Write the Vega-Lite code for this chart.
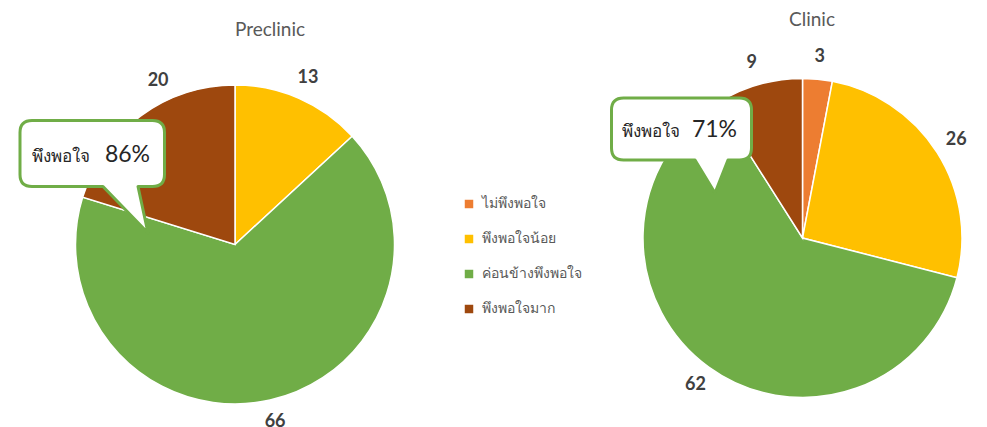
{
  "$schema": "https://vega.github.io/schema/vega-lite/v6.json",
  "width": 987,
  "height": 427,
  "autosize": "none",
  "padding": 0,
  "background": "white",
  "config": {"view": {"stroke": null}, "font": "Lato"},
  "datasets": {
    "slices": [
      {"grp": "Preclinic", "cat": "พึงพอใจน้อย", "k": 2, "v": 13},
      {"grp": "Preclinic", "cat": "ค่อนข้างพึงพอใจ", "k": 3, "v": 66},
      {"grp": "Preclinic", "cat": "พึงพอใจมาก", "k": 4, "v": 20},
      {"grp": "Clinic", "cat": "ไม่พึงพอใจ", "k": 1, "v": 3},
      {"grp": "Clinic", "cat": "พึงพอใจน้อย", "k": 2, "v": 26},
      {"grp": "Clinic", "cat": "ค่อนข้างพึงพอใจ", "k": 3, "v": 62},
      {"grp": "Clinic", "cat": "พึงพอใจมาก", "k": 4, "v": 9}
    ],
    "callouts": [
      {"grp": "Preclinic", "label": "พึงพอใจ", "pct": "86%"},
      {"grp": "Clinic", "label": "พึงพอใจ", "pct": "71%"}
    ]
  },
  "resolve": {"scale": {"x": "independent", "y": "independent"}},
  "layer": [
    {
      "data": {"name": "slices"},
      "transform": [{"filter": "datum.grp === 'Preclinic'"}],
      "encoding": {
        "x": {"field": "grp", "type": "nominal", "scale": {"type": "point", "padding": 0, "domain": ["Preclinic", "Clinic"], "range": [235, 802.5]}, "axis": null},
        "y": {"field": "grp", "type": "nominal", "scale": {"type": "point", "padding": 0, "domain": ["Preclinic", "Clinic"], "range": [244.5, 238]}, "axis": null},
        "theta": {"field": "v", "type": "quantitative", "stack": "normalize"},
        "order": {"field": "k", "type": "quantitative"}
      },
      "layer": [
        {
          "mark": {"type": "arc", "outerRadius": 159.5, "stroke": "white", "strokeWidth": 1.5},
          "encoding": {
            "color": {
              "field": "cat", "type": "nominal",
              "scale": {"domain": ["ไม่พึงพอใจ", "พึงพอใจน้อย", "ค่อนข้างพึงพอใจ", "พึงพอใจมาก"], "range": ["#ED7D31", "#FFC000", "#70AD47", "#9E480E"]},
              "legend": {"orient": "none", "legendX": 462, "legendY": 197, "title": null, "symbolType": "square", "symbolSize": 72, "symbolStrokeWidth": 0, "labelFontSize": 14, "labelColor": "#595959", "rowPadding": 21, "labelOffset": 6}
            }
          }
        },
        {
          "mark": {"type": "text", "radius": 182, "fontSize": 18, "fontWeight": "bold", "baseline": "middle", "align": "center"},
          "encoding": {
            "detail": {"field": "cat"},
            "color": {"value": "#404040"},
            "text": {"condition": {"test": "datum.cat === 'พึงพอใจมาก'", "value": ""}, "field": "v", "type": "quantitative"}
          }
        },
        {
          "mark": {"type": "text", "radius": 182, "fontSize": 18, "fontWeight": "bold", "baseline": "middle", "align": "center", "dx": 31, "dy": -17},
          "encoding": {
            "detail": {"field": "cat"},
            "color": {"value": "#404040"},
            "text": {"condition": {"test": "datum.cat !== 'พึงพอใจมาก'", "value": ""}, "field": "v", "type": "quantitative"}
          }
        }
      ]
    },
    {
      "data": {"name": "slices"},
      "transform": [{"filter": "datum.grp === 'Clinic'"}],
      "encoding": {
        "x": {"field": "grp", "type": "nominal", "scale": {"type": "point", "padding": 0, "domain": ["Preclinic", "Clinic"], "range": [235, 802.5]}, "axis": null},
        "y": {"field": "grp", "type": "nominal", "scale": {"type": "point", "padding": 0, "domain": ["Preclinic", "Clinic"], "range": [244.5, 238]}, "axis": null},
        "theta": {"field": "v", "type": "quantitative", "stack": "normalize"},
        "order": {"field": "k", "type": "quantitative"}
      },
      "layer": [
        {
          "mark": {"type": "arc", "outerRadius": 159.5, "stroke": "white", "strokeWidth": 1.5},
          "encoding": {"color": {"field": "cat", "type": "nominal"}}
        },
        {
          "mark": {"type": "text", "radius": 182, "fontSize": 18, "fontWeight": "bold", "baseline": "middle", "align": "center"},
          "encoding": {
            "detail": {"field": "cat"},
            "color": {"value": "#404040"},
            "text": {"field": "v", "type": "quantitative"}
          }
        }
      ]
    },
    {
      "data": {"name": "callouts"},
      "mark": {"type": "text", "fontSize": 19, "baseline": "middle", "align": "center", "color": "#595959"},
      "encoding": {
        "x": {"field": "grp", "type": "nominal", "scale": {"type": "point", "padding": 0, "domain": ["Preclinic", "Clinic"], "range": [270, 812]}, "axis": null},
        "y": {"field": "grp", "type": "nominal", "scale": {"type": "point", "padding": 0, "domain": ["Preclinic", "Clinic"], "range": [29.5, 20]}, "axis": null},
        "text": {"field": "grp"}
      }
    },
    {
      "data": {"name": "callouts"},
      "mark": {"type": "point", "filled": true, "fill": "white", "stroke": "#70AD47", "strokeWidth": 3, "opacity": 1, "fillOpacity": 1, "strokeOpacity": 1, "size": 4, "strokeJoin": "round"},
      "encoding": {
        "x": {"field": "grp", "type": "nominal", "scale": {"type": "point", "padding": 0, "domain": ["Preclinic", "Clinic"], "range": [235, 802.5]}, "axis": null},
        "y": {"field": "grp", "type": "nominal", "scale": {"type": "point", "padding": 0, "domain": ["Preclinic", "Clinic"], "range": [244.5, 238]}, "axis": null},
        "shape": {
          "field": "grp", "type": "nominal", "legend": null,
          "scale": {
            "domain": ["Preclinic", "Clinic"],
            "range": [
              "M -203 -124 H -82.5 Q -70.5 -124 -70.5 -112 V -70 Q -70.5 -58 -82.5 -58 H -97 L -87 -11.5 L -132 -58 H -203 Q -215 -58 -215 -70 V -112 Q -215 -124 -203 -124 Z",
              "M -179 -140 H -63 Q -51 -140 -51 -128 V -90 Q -51 -78 -63 -78 H -74.5 L -87.5 -45 L -107.5 -78 H -179 Q -191 -78 -191 -90 V -128 Q -191 -140 -179 -140 Z"
            ]
          }
        }
      }
    },
    {
      "data": {"name": "callouts"},
      "mark": {"type": "text", "fontSize": 17, "baseline": "alphabetic", "align": "left", "color": "#262626"},
      "encoding": {
        "x": {"field": "grp", "type": "nominal", "scale": {"type": "point", "padding": 0, "domain": ["Preclinic", "Clinic"], "range": [32, 621.7]}, "axis": null},
        "y": {"field": "grp", "type": "nominal", "scale": {"type": "point", "padding": 0, "domain": ["Preclinic", "Clinic"], "range": [162, 137]}, "axis": null},
        "text": {"field": "label"}
      }
    },
    {
      "data": {"name": "callouts"},
      "mark": {"type": "text", "fontSize": 23, "baseline": "alphabetic", "align": "right", "color": "#262626"},
      "encoding": {
        "x": {"field": "grp", "type": "nominal", "scale": {"type": "point", "padding": 0, "domain": ["Preclinic", "Clinic"], "range": [150, 737]}, "axis": null},
        "y": {"field": "grp", "type": "nominal", "scale": {"type": "point", "padding": 0, "domain": ["Preclinic", "Clinic"], "range": [162, 137]}, "axis": null},
        "text": {"field": "pct"}
      }
    }
  ]
}
